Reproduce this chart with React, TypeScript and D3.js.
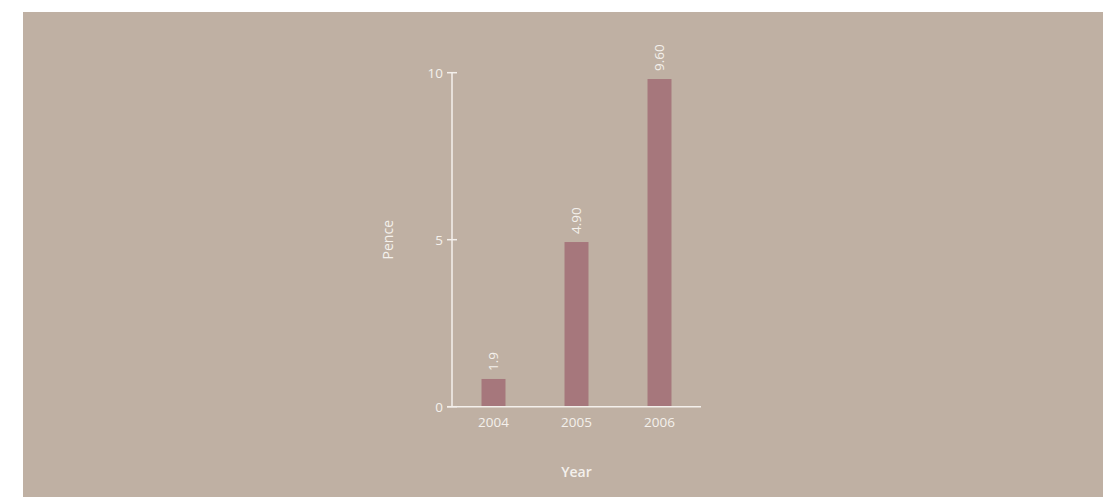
import React from "react";
import * as d3 from "d3";

const years: string[] = ["2004", "2005", "2006"];
const values: number[] = [0.83, 4.93, 9.81];
const valueLabels: string[] = ["1.9", "4.90", "9.60"];
const yTicks: number[] = [0, 5, 10];
const xTitle = "Year";
const yTitle = "Pence";

const W = 1103;
const H = 497;
const BG = "#bfb0a3";
const BAR = "#a6777c";
const FG = "#f4f0ec";
const FONT = "'Open Sans', sans-serif";

export default function App() {
  const plot = { left: 452, right: 701, top: 72.7, bottom: 406.7 };
  const x = d3
    .scaleBand<string>()
    .domain(years)
    .range([plot.left, plot.right])
    .paddingInner(0.711)
    .paddingOuter(0.3555);
  const y = d3.scaleLinear().domain([0, 10]).range([plot.bottom, plot.top]);

  return (
    <svg
      width={W}
      height={H}
      style={{ position: "absolute", left: 0, top: 0, display: "block" }}
      fontFamily={FONT}
    >
      <rect x={23} y={12} width={W - 23} height={H - 12} fill={BG} />
      {/* bars */}
      {years.map((yr, i) => (
        <rect
          key={yr}
          x={x(yr)}
          y={y(values[i])}
          width={x.bandwidth()}
          height={y(0) - y(values[i])}
          fill={BAR}
        />
      ))}
      {/* value labels */}
      {years.map((yr, i) => {
        const cx = (x(yr) as number) + x.bandwidth() / 2;
        const ty = y(values[i]) - 8;
        return (
          <text
            key={"l" + yr}
            transform={`translate(${cx},${ty}) rotate(-90)`}
            dy="0.35em"
            textAnchor="start"
            fontSize={13.5}
            fill={FG}
          >
            {valueLabels[i]}
          </text>
        );
      })}
      {/* y axis */}
      <line x1={plot.left} x2={plot.left} y1={y(10)} y2={y(0)} stroke={FG} strokeWidth={1.5} />
      {yTicks.map((t) => (
        <g key={"yt" + t} transform={`translate(0,${y(t)})`}>
          <line x1={plot.left - 5} x2={plot.left + 5} stroke={FG} strokeWidth={1.5} />
          <text
            x={plot.left - 9}
            dy="0.4em"
            textAnchor="end"
            fontSize={13.5}
            fill={FG}
          >
            {t}
          </text>
        </g>
      ))}
      {/* x axis */}
      <line x1={plot.left - 5} x2={plot.right} y1={y(0)} y2={y(0)} stroke={FG} strokeWidth={1.5} />
      {years.map((yr) => (
        <text
          key={"xt" + yr}
          x={(x(yr) as number) + x.bandwidth() / 2}
          y={y(0) + 20.6}
          textAnchor="middle"
          fontSize={13.5}
          fill={FG}
        >
          {yr}
        </text>
      ))}
      {/* titles */}
      <text
        x={(plot.left + plot.right) / 2}
        y={476.5}
        textAnchor="middle"
        fontSize={14}
        fontWeight={600}
        fill={FG}
      >
        {xTitle}
      </text>
      <text
        transform={`translate(388,${(plot.top + plot.bottom) / 2}) rotate(-90)`}
        dy="0.35em"
        textAnchor="middle"
        fontSize={14}
        fontWeight={500}
        fill={FG}
      >
        {yTitle}
      </text>
    </svg>
  );
}
